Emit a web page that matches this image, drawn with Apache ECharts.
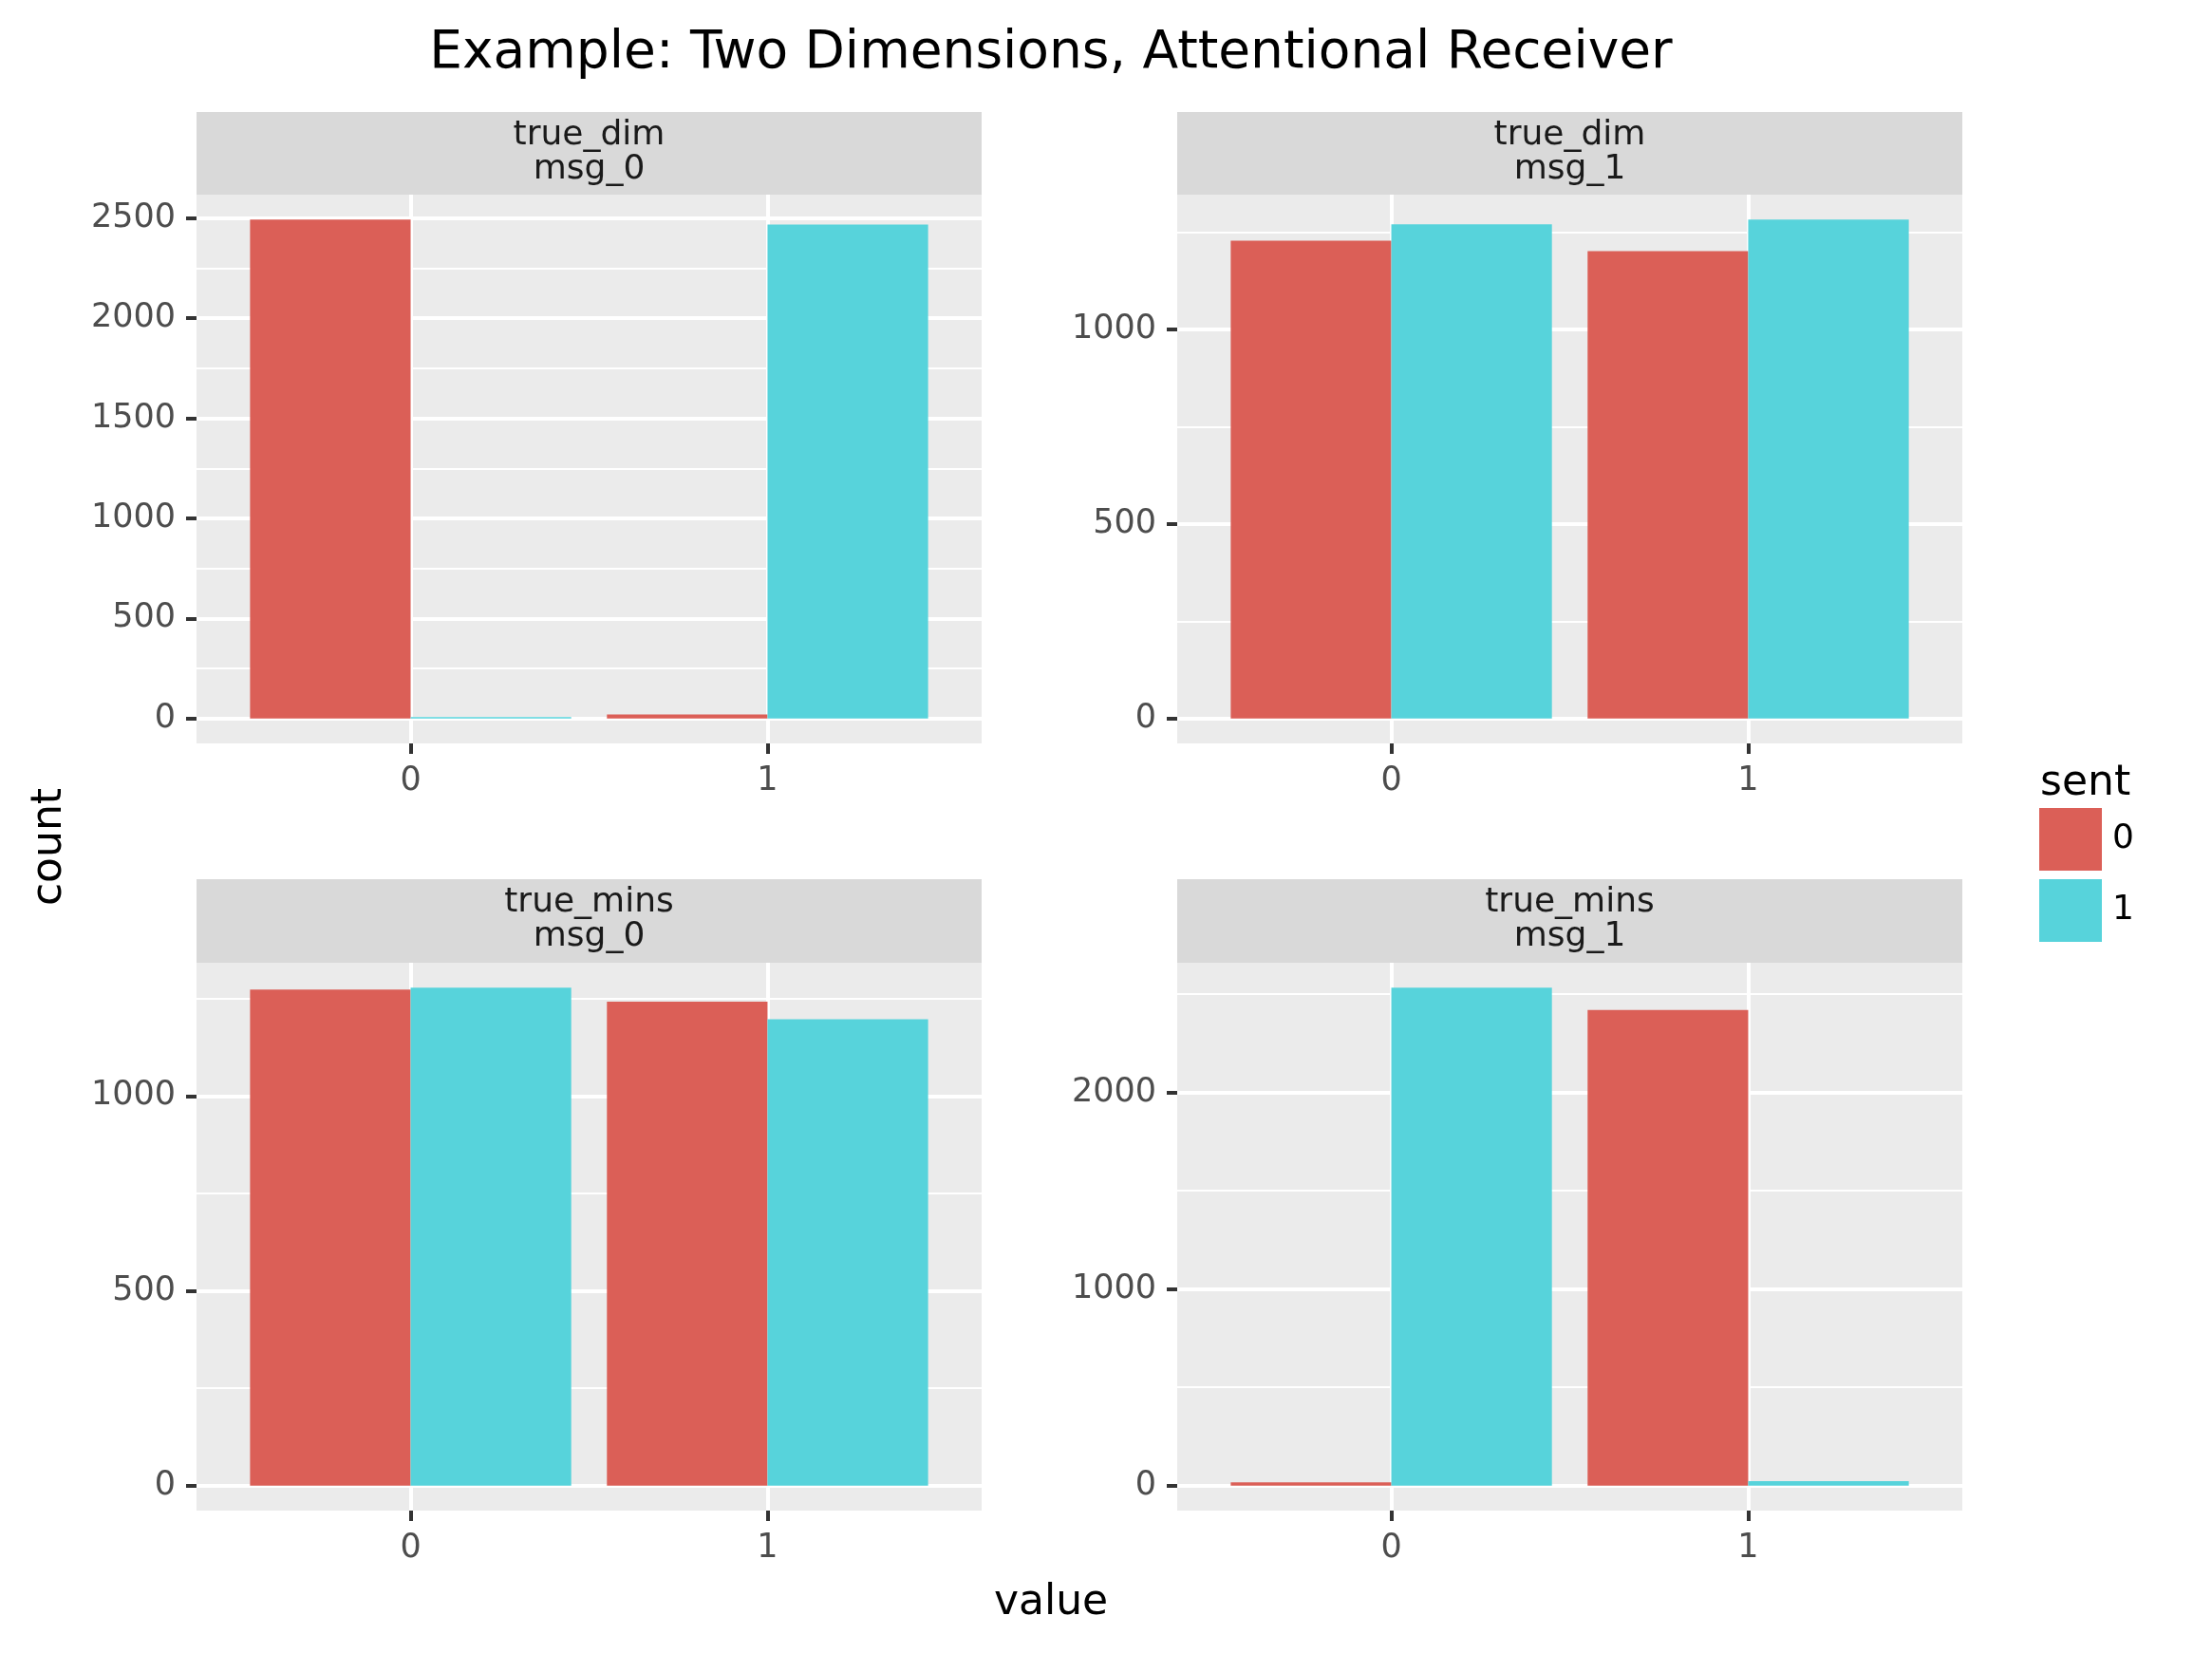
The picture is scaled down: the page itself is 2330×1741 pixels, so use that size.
<!DOCTYPE html>
<html><head><meta charset="utf-8">
<script src="https://cdn.jsdelivr.net/npm/echarts@6/dist/echarts.min.js"></script>
<style>html,body{margin:0;padding:0;background:#fff}#chart{width:2330px;height:1741px}</style>
</head><body><div id="chart"></div>
<script>
// ---------------- data ----------------
const valueCategories = [0, 1];
const xTickLabels = ['0', '1'];
const sentLevels = ['0', '1'];
const facetTrue = ['true_dim', 'true_dim', 'true_mins', 'true_mins'];
const facetMsg = ['msg_0', 'msg_1', 'msg_0', 'msg_1'];

const trueDimMsg0Sent0 = [2493, 20];
const trueDimMsg0Sent1 = [7, 2468];
const trueDimMsg1Sent0 = [1229, 1202];
const trueDimMsg1Sent1 = [1271, 1283];
const trueMinsMsg0Sent0 = [1273, 1242];
const trueMinsMsg0Sent1 = [1278, 1197];
const trueMinsMsg1Sent0 = [17, 2420];
const trueMinsMsg1Sent1 = [2533, 23];

const yMajorTicks = [[0, 500, 1000, 1500, 2000, 2500], [0, 500, 1000], [0, 500, 1000], [0, 1000, 2000]];
const yMinorTicks = [[250, 750, 1250, 1750, 2250], [250, 750, 1250], [250, 750, 1250], [500, 1500, 2500]];

const panelSeries = [
  [trueDimMsg0Sent0, trueDimMsg0Sent1],
  [trueDimMsg1Sent0, trueDimMsg1Sent1],
  [trueMinsMsg0Sent0, trueMinsMsg0Sent1],
  [trueMinsMsg1Sent0, trueMinsMsg1Sent1]
];

// ---------------- layout / style ----------------
const FONT = 'DejaVu Sans';
const COLORS = ['#DB5F57', '#57D3DB'];
const panels = [
  {left: 207, top: 205, width: 827, height: 578, stripTop: 118, stripH: 87},
  {left: 1240, top: 205, width: 827, height: 578, stripTop: 118, stripH: 87},
  {left: 207, top: 1014, width: 827, height: 577, stripTop: 926, stripH: 88},
  {left: 1240, top: 1014, width: 827, height: 577, stripTop: 926, stripH: 88}
];
const DODGE = 0.9;

const grids = [], xAxes = [], yAxes = [], series = [], graphics = [];

panels.forEach((p, i) => {
  const sets = panelSeries[i];
  const maxV = Math.max(...sets[0], ...sets[1]);
  const yMin = -0.05 * maxV, yMax = 1.05 * maxV;
  grids.push({left: p.left, top: p.top, width: p.width, height: p.height,
    show: true, backgroundColor: '#ebebeb', borderWidth: 0, containLabel: false, outerBoundsMode: 'none'});
  xAxes.push({
    type: 'value', gridIndex: i, min: -0.6, max: 1.6, position: 'bottom',
    axisLine: {show: false, onZero: false},
    axisTick: {show: true, inside: false, length: 11, customValues: valueCategories, lineStyle: {color: '#333333', width: 4}},
    axisLabel: {show: true, customValues: valueCategories, margin: 22, fontSize: 35, color: '#4d4d4d', fontFamily: FONT,
      formatter: v => xTickLabels[valueCategories.indexOf(v)]},
    splitLine: {show: true, lineStyle: {color: '#ffffff', width: 4}}
  });
  yAxes.push({
    type: 'value', gridIndex: i, min: yMin, max: yMax, position: 'left',
    axisLine: {show: false, onZero: false},
    axisTick: {show: true, inside: false, length: 11, customValues: yMajorTicks[i], lineStyle: {color: '#333333', width: 4}},
    axisLabel: {show: true, customValues: yMajorTicks[i], margin: 22, fontSize: 35, color: '#4d4d4d', fontFamily: FONT,
      formatter: v => String(v)},
    splitLine: {show: true, lineStyle: {color: '#ffffff', width: 4}},
    z: 1
  });
  yAxes.push({
    type: 'value', gridIndex: i, min: yMin, max: yMax, position: 'left',
    axisLine: {show: false, onZero: false},
    axisTick: {show: false, customValues: yMinorTicks[i]},
    axisLabel: {show: false, customValues: yMinorTicks[i]},
    splitLine: {show: true, lineStyle: {color: '#ffffff', width: 2}},
    z: 0
  });
  sets.forEach((vals, k) => {
    series.push({
      type: 'custom', name: sentLevels[k], xAxisIndex: i, yAxisIndex: 2 * i,
      itemStyle: {color: COLORS[k]},
      encode: {x: 0, y: 1},
      data: valueCategories.map((c, j) => [c, vals[j]]),
      z: 3,
      renderItem: (params, api) => {
        const x = api.value(0), y = api.value(1);
        const w = DODGE / 2;
        const left = x - DODGE / 2 + k * w;
        const p0 = api.coord([left, 0]);
        const p1 = api.coord([left + w, y]);
        return {type: 'rect', shape: {x: p0[0], y: p1[1], width: p1[0] - p0[0], height: p0[1] - p1[1]},
          style: {fill: COLORS[k]}};
      }
    });
  });
  graphics.push({type: 'rect', silent: true, shape: {x: p.left, y: p.stripTop, width: p.width, height: p.stripH},
    style: {fill: '#d9d9d9'}});
  graphics.push({type: 'text', silent: true, x: p.left + p.width / 2, y: p.stripTop + p.stripH / 2 - 1,
    style: {text: facetTrue[i] + '\n' + facetMsg[i], fontSize: 36, fontFamily: FONT, fill: '#1a1a1a',
      align: 'center', verticalAlign: 'middle', lineHeight: 36}});
});

graphics.push({type: 'text', silent: true, x: 1107, y: 57,
  style: {text: 'Example: Two Dimensions, Attentional Receiver', fontSize: 55, fontFamily: FONT, fill: '#000',
    align: 'center', verticalAlign: 'middle'}});
graphics.push({type: 'text', silent: true, x: 1107, y: 1689,
  style: {text: 'value', fontSize: 44, fontFamily: FONT, fill: '#000', align: 'center', verticalAlign: 'middle'}});
graphics.push({type: 'text', silent: true, x: 53, y: 892, rotation: Math.PI / 2,
  style: {text: 'count', fontSize: 44, fontFamily: FONT, fill: '#000', align: 'center', verticalAlign: 'middle'}});
graphics.push({type: 'text', silent: true, x: 2149, y: 826,
  style: {text: 'sent', fontSize: 44, fontFamily: FONT, fill: '#000', align: 'left', verticalAlign: 'middle'}});

const chart = echarts.init(document.getElementById('chart'), null, {renderer: 'canvas'});
chart.setOption({
  animation: false,
  backgroundColor: '#ffffff',
  textStyle: {fontFamily: FONT},
  grid: grids,
  xAxis: xAxes,
  yAxis: yAxes,
  legend: {
    show: true, orient: 'vertical', left: 2148, top: 851, padding: 0,
    itemWidth: 66, itemHeight: 66, itemGap: 9, icon: 'rect', selectedMode: false,
    data: sentLevels,
    textStyle: {fontSize: 36, color: '#000', fontFamily: FONT, padding: [0, 0, 0, 6]}
  },
  graphic: graphics,
  series: series
});
</script></body></html>
